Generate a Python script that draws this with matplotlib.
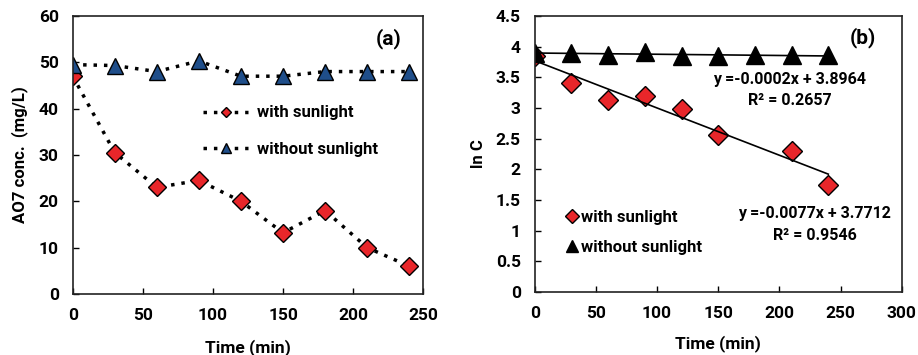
import matplotlib
matplotlib.use("Agg")
import matplotlib.pyplot as plt
import numpy as np

plt.rcParams['font.family'] = ['Roboto', 'DejaVu Sans']
plt.rcParams['font.weight'] = 'bold'
plt.rcParams['axes.labelweight'] = 'bold'

# Panel (a)
time_a = [0, 30, 60, 90, 120, 150, 180, 210, 240]
conc_with = [47, 30.5, 23, 24.5, 20, 13.2, 18, 10, 6]
conc_without = [49.5, 49.3, 48, 50.3, 47, 47, 48, 48, 48]

# Panel (b)
time_b_with = [0, 30, 60, 90, 120, 150, 210, 240]
lnc_with = [3.85, 3.41, 3.13, 3.19, 2.99, 2.56, 2.30, 1.74]
time_b_without = [0, 30, 60, 90, 120, 150, 180, 210, 240]
lnc_without = [3.90, 3.90, 3.87, 3.92, 3.85, 3.85, 3.87, 3.87, 3.87]
fit_without = (-0.0002, 3.8964)
fit_with = (-0.0077, 3.7712)
eq_without = ["y =-0.0002x + 3.8964", "R² = 0.2657"]
eq_with = ["y =-0.0077x + 3.7712", "R² = 0.9546"]

fig = plt.figure(figsize=(9.18, 3.55), dpi=100)
ax1 = fig.add_axes([0.0792, 0.172, 0.3818, 0.783])
ax2 = fig.add_axes([0.5825, 0.177, 0.3997, 0.778])

red = '#e8262a'
blue = '#1f4e8a'

ax1.plot(time_a, conc_with, linestyle=(0, (1, 2)), color='black', lw=2.5,
         marker='D', ms=9, mfc=red, mec='black', mew=1, label='with sunlight')
ax1.plot(time_a, conc_without, linestyle=(0, (1, 2)), color='black', lw=2.5,
         marker='^', ms=12, mfc=blue, mec='black', mew=1, label='without sunlight')
ax1.set_xlim(0, 250)
ax1.set_ylim(0, 60)
ax1.set_xticks(np.arange(0, 251, 50))
ax1.set_yticks(np.arange(0, 61, 10))
ax1.set_xlabel('Time (min)', fontsize=12.5, labelpad=12)
ax1.set_ylabel('AO7 conc.  (mg/L)', fontsize=12, labelpad=8)
ax1.text(0.9, 0.92, '(a)', transform=ax1.transAxes, fontsize=15, ha='center', va='center')
ax1.legend(loc='center left', bbox_to_anchor=(0.33, 0.585), frameon=False, fontsize=12,
           handlelength=2.7, markerscale=0.6, labelspacing=1.3, handletextpad=0.5)

b_x = np.array([0, 240])
ax2.plot(time_b_with, lnc_with, linestyle='none', marker='D', ms=10, mfc=red, mec='black',
         mew=1, label='with sunlight')
ax2.plot(time_b_without, lnc_without, linestyle='none', marker='^', ms=13, mfc='black',
         mec='black', label='without sunlight')
ax2.plot(b_x, fit_without[0] * b_x + fit_without[1], color='black', lw=1.2)
ax2.plot(b_x, fit_with[0] * b_x + fit_with[1], color='black', lw=1.2)
ax2.set_xlim(0, 300)
ax2.set_ylim(0, 4.5)
ax2.set_xticks(np.arange(0, 301, 50))
ax2.set_yticks(np.arange(0, 4.51, 0.5))
ax2.set_yticklabels(['0', '0.5', '1', '1.5', '2', '2.5', '3', '3.5', '4', '4.5'])
ax2.set_xlabel('Time (min)', fontsize=12.5, labelpad=10)
ax2.set_ylabel('ln C', fontsize=12, labelpad=7)
ax2.text(0.895, 0.92, '(b)', transform=ax2.transAxes, fontsize=15, ha='center', va='center')
ax2.text(0.695, 0.77, eq_without[0], transform=ax2.transAxes, fontsize=11.5, ha='center', va='center')
ax2.text(0.695, 0.695, eq_without[1], transform=ax2.transAxes, fontsize=11.5, ha='center', va='center')
ax2.text(0.763, 0.285, eq_with[0], transform=ax2.transAxes, fontsize=11.5, ha='center', va='center')
ax2.text(0.763, 0.205, eq_with[1], transform=ax2.transAxes, fontsize=11.5, ha='center', va='center')
ax2.legend(loc='center left', bbox_to_anchor=(0.05, 0.215), frameon=False, fontsize=12,
           handlelength=0.5, markerscale=0.7, labelspacing=0.9, handletextpad=0.3)

for ax in (ax1, ax2):
    ax.tick_params(direction='in', length=4, width=1, labelsize=12.5, pad=10)
    for s in ax.spines.values():
        s.set_linewidth(1.2)
        s.set_color('#222222')

fig.savefig('out.png', dpi=100)
